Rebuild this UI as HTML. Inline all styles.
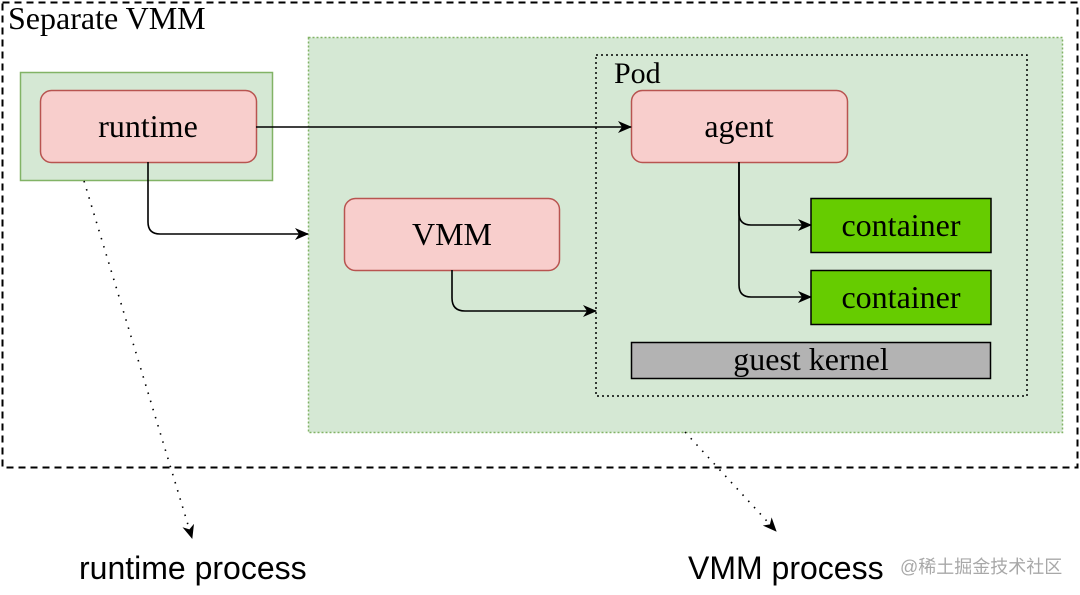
<!DOCTYPE html>
<html><head><meta charset="utf-8"><style>
html,body{margin:0;padding:0;background:#fff;width:1080px;height:595px;overflow:hidden}
svg{display:block}
.serif{font-family:"Liberation Serif",serif;fill:#000}
.sans{font-family:"Liberation Sans",sans-serif;fill:#000}
</style></head><body>
<svg width="1080" height="595" viewBox="0 0 1080 595" xmlns="http://www.w3.org/2000/svg">
<defs>
<marker id="ah" markerWidth="14" markerHeight="12" refX="13" refY="6" orient="auto" markerUnits="userSpaceOnUse">
<path d="M0,0 L14,6 L0,12 L4,6 Z" fill="#000"/>
</marker>
</defs>
<rect x="2.5" y="2.5" width="1075" height="465" fill="none" stroke="#000" stroke-width="2" stroke-dasharray="7,5"/>
<text x="8" y="29" class="serif" font-size="32">Separate VMM</text>
<rect x="20.5" y="72.5" width="252" height="108" fill="#d5e8d4" stroke="#82b366" stroke-width="1.5"/>
<rect x="308.5" y="37.5" width="754" height="395" fill="#d5e8d4" stroke="#82b366" stroke-width="1.5" stroke-dasharray="2,2"/>
<rect x="596" y="55" width="431" height="341" fill="none" stroke="#000" stroke-width="1.5" stroke-dasharray="2,3"/>
<text x="614" y="83" class="serif" font-size="30">Pod</text>
<rect x="40.5" y="90.5" width="216" height="72" rx="11" fill="#f8cecc" stroke="#b85450" stroke-width="1.5"/>
<text x="148" y="137" class="serif" font-size="32" text-anchor="middle">runtime</text>
<rect x="631.5" y="90.5" width="216" height="72" rx="11" fill="#f8cecc" stroke="#b85450" stroke-width="1.5"/>
<text x="739" y="137" class="serif" font-size="32" text-anchor="middle">agent</text>
<rect x="344.5" y="198.5" width="215" height="72" rx="11" fill="#f8cecc" stroke="#b85450" stroke-width="1.5"/>
<text x="452" y="245" class="serif" font-size="32" text-anchor="middle">VMM</text>
<rect x="811" y="198.5" width="180" height="54" fill="#66cc00" stroke="#000" stroke-width="1.5"/>
<text x="901" y="236" class="serif" font-size="32" text-anchor="middle">container</text>
<rect x="811" y="270.5" width="180" height="54" fill="#66cc00" stroke="#000" stroke-width="1.5"/>
<text x="901" y="308" class="serif" font-size="32" text-anchor="middle">container</text>
<rect x="631.5" y="342.5" width="359" height="36" fill="#b3b3b3" stroke="#000" stroke-width="1.5"/>
<text x="811" y="370" class="serif" font-size="32" text-anchor="middle">guest kernel</text>
<g fill="none" stroke="#000" stroke-width="1.6">
<path d="M256,127 L631,127" marker-end="url(#ah)"/>
<path d="M148,162 L148,222 Q148,234 160,234 L308,234" marker-end="url(#ah)"/>
<path d="M452,270 L452,298 Q452,311 465,311 L596,311" marker-end="url(#ah)"/>
<path d="M739,162 L739,213 Q739,225 751,225 L811,225" marker-end="url(#ah)"/>
<path d="M739,162 L739,285 Q739,297 751,297 L811,297" marker-end="url(#ah)"/>
</g>
<g fill="none" stroke="#000" stroke-width="1.6" stroke-dasharray="1.5,7">
<path d="M84,181 L192,538" marker-end="url(#ah)"/>
<path d="M685,432 L776,531" marker-end="url(#ah)"/>
</g>
<text x="79" y="579" class="sans" font-size="32">runtime process</text>
<text x="688" y="579" class="sans" font-size="32">VMM process</text>
<text x="900" y="573" font-family="'Liberation Sans','Noto Sans CJK SC',sans-serif" font-size="18" fill="#a8a8a8">@稀土掘金技术社区</text>
</svg>
</body></html>
